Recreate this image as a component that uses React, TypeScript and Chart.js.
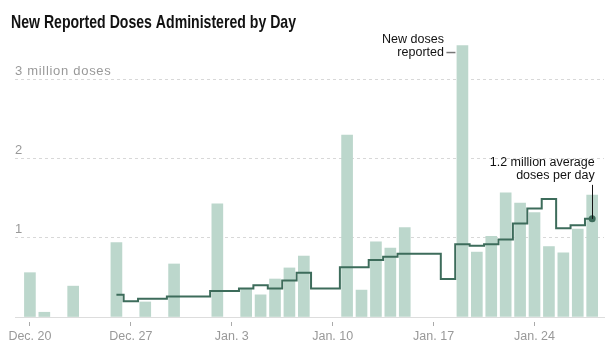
import { useEffect, useRef } from 'react';
import { Chart, registerables } from 'chart.js';

Chart.register(...registerables);

// One entry per day, Dec. 20 through Jan. 28
const days = [
  'Dec. 20', 'Dec. 21', 'Dec. 22', 'Dec. 23', 'Dec. 24', 'Dec. 25', 'Dec. 26', 'Dec. 27',
  'Dec. 28', 'Dec. 29', 'Dec. 30', 'Dec. 31', 'Jan. 1', 'Jan. 2', 'Jan. 3', 'Jan. 4',
  'Jan. 5', 'Jan. 6', 'Jan. 7', 'Jan. 8', 'Jan. 9', 'Jan. 10', 'Jan. 11', 'Jan. 12',
  'Jan. 13', 'Jan. 14', 'Jan. 15', 'Jan. 16', 'Jan. 17', 'Jan. 18', 'Jan. 19', 'Jan. 20',
  'Jan. 21', 'Jan. 22', 'Jan. 23', 'Jan. 24', 'Jan. 25', 'Jan. 26', 'Jan. 27', 'Jan. 28',
];

// New reported doses (millions); null = no report that day
const newDoses = [
  0.56, 0.06, null, 0.39, null, null, 0.94, null,
  0.19, null, 0.67, null, null, 1.43, null, 0.35,
  0.28, 0.48, 0.62, 0.77, null, null, 2.30, 0.34,
  0.95, 0.87, 1.13, null, null, null, 3.43, 0.82,
  1.02, 1.57, 1.44, 1.32, 0.89, 0.81, 1.11, 1.54,
];

// 7-day average doses (millions)
const avgDoses = [
  null, null, null, null, null, null, 0.28, 0.20,
  0.23, 0.23, 0.26, 0.26, 0.26, 0.33, 0.33, 0.36,
  0.40, 0.36, 0.46, 0.56, 0.36, 0.36, 0.63, 0.63,
  0.72, 0.76, 0.80, 0.80, 0.80, 0.48, 0.92, 0.90,
  0.92, 0.98, 1.18, 1.37, 1.49, 1.12, 1.16, 1.24,
];

const xTickDays = [0, 7, 14, 21, 28, 35];
const yTicks = [1, 2, 3];
const yTickLabels = ['1', '2', '3 million doses'];

const titleText = 'New Reported Doses Administered by Day';
const peakNote = ['New doses', 'reported'];
const avgNote = ['1.2 million average', 'doses per day'];

const BAR_COLOR = '#bcd7cc';
const LINE_COLOR = '#3d6c5b';
const LABEL_FONT = '"Liberation Sans", Arial, sans-serif';

export default function App() {
  const canvasRef = useRef<HTMLCanvasElement | null>(null);

  useEffect(() => {
    document.body.style.margin = '0';
    const canvas = canvasRef.current;
    if (!canvas) return;

    const barData = newDoses
      .map((v, i) => (v == null ? null : { x: i, y: v }))
      .filter((p) => p !== null) as { x: number; y: number }[];
    const lineData = avgDoses
      .map((v, i) => (v == null ? null : { x: i, y: v }))
      .filter((p) => p !== null) as { x: number; y: number }[];
    const peakIndex = newDoses.indexOf(Math.max(...(newDoses.filter((v) => v != null) as number[])));
    const lastIndex = avgDoses.length - 1;

    const overlay = {
      id: 'overlay',
      afterDraw(chart: any) {
        const { ctx, scales } = chart;
        const xs = scales.x;
        const ys = scales.y;
        ctx.save();
        // Title (condensed bold)
        ctx.fillStyle = '#121212';
        ctx.textAlign = 'left';
        ctx.textBaseline = 'alphabetic';
        ctx.font = 'bold 18.5px "Liberation Sans", Arial, sans-serif';
        const tw = ctx.measureText(titleText).width;
        ctx.save();
        ctx.translate(11, 27.5);
        ctx.scale(285 / tw, 1);
        ctx.fillText(titleText, 0, 0);
        ctx.restore();

        // Y tick labels above grid lines
        ctx.fillStyle = '#999999';
        ctx.font = '13px ' + LABEL_FONT;
        try { (ctx as any).letterSpacing = '0.7px'; } catch (e) {}
        yTicks.forEach((v, i) => {
          ctx.fillText(yTickLabels[i], chart.chartArea.left, ys.getPixelForValue(v) - 4.5);
        });
        try { (ctx as any).letterSpacing = '0px'; } catch (e) {}

        // Peak annotation
        const px = xs.getPixelForValue(peakIndex);
        const pTop = ys.getPixelForValue(newDoses[peakIndex] as number);
        ctx.fillStyle = '#121212';
        ctx.font = '12.5px ' + LABEL_FONT;
        ctx.textAlign = 'right';
        ctx.fillText(peakNote[0], px - 18.5, pTop - 3);
        ctx.fillText(peakNote[1], px - 18.5, pTop + 10);
        ctx.strokeStyle = '#777777';
        ctx.lineWidth = 1.5;
        ctx.beginPath();
        ctx.moveTo(px - 16, pTop + 7);
        ctx.lineTo(px - 7, pTop + 7);
        ctx.stroke();

        // Average annotation
        const ax = xs.getPixelForValue(lastIndex);
        const ay = ys.getPixelForValue(avgDoses[lastIndex] as number);
        ctx.fillText(avgNote[0], ax + 2.5, ay - 53);
        ctx.fillText(avgNote[1], ax + 2.5, ay - 40);
        ctx.strokeStyle = '#121212';
        ctx.lineWidth = 1;
        ctx.beginPath();
        ctx.moveTo(Math.round(ax) + 0.5, ay - 34);
        ctx.lineTo(Math.round(ax) + 0.5, ay);
        ctx.stroke();
        ctx.restore();
      },
    };

    const chart = new Chart(canvas, {
      type: 'bar',
      data: {
        datasets: [
          {
            type: 'line',
            data: lineData,
            borderColor: LINE_COLOR,
            backgroundColor: LINE_COLOR,
            borderWidth: 2,
            stepped: 'middle',
            pointRadius: (c: any) => (c.dataIndex === lineData.length - 1 ? 3.5 : 0),
            pointBorderWidth: 0,
            order: 0,
          } as any,
          {
            type: 'bar',
            data: barData,
            backgroundColor: BAR_COLOR,
            barThickness: 11,
            order: 1,
          },
        ],
      },
      options: {
        animation: false,
        responsive: false,
        devicePixelRatio: 1,
        layout: { padding: { left: 15, right: 1, top: 40, bottom: 1 } },
        plugins: { legend: { display: false }, tooltip: { enabled: false }, title: { display: false } },
        scales: {
          x: {
            type: 'linear',
            offset: false,
            min: -1.035,
            max: 39.82,
            afterBuildTicks: (scale: any) => {
              scale.ticks = xTickDays.map((v) => ({ value: v }));
            },
            grid: {
              offset: false,
              drawOnChartArea: false,
              drawTicks: true,
              tickLength: 9,
              tickColor: '#aaaaaa',
              tickBorderDash: [0, 4, 5, 100],
            },
            border: { display: true, color: '#dddddd', width: 1 },
            ticks: {
              autoSkip: false,
              maxRotation: 0,
              padding: 3,
              color: '#999999',
              font: { family: LABEL_FONT, size: 12.5 },
              callback: (v: any) => days[v as number],
            },
          },
          y: {
            min: 0,
            max: 3.5,
            afterBuildTicks: (scale: any) => {
              scale.ticks = [0, ...yTicks].map((v) => ({ value: v }));
            },
            grid: {
              drawTicks: false,
              color: (c: any) => (c.tick && c.tick.value === 0 ? 'rgba(0,0,0,0)' : '#d8d8d8'),
            },
            border: { display: false, dash: [3, 3] },
            ticks: { display: false },
          },
        },
      },
      plugins: [overlay],
    });

    return () => chart.destroy();
  }, []);

  return (
    <div style={{ position: 'relative', width: 608, height: 348 }}>
      <canvas ref={canvasRef} width={608} height={348} style={{ display: 'block' }} />
    </div>
  );
}
